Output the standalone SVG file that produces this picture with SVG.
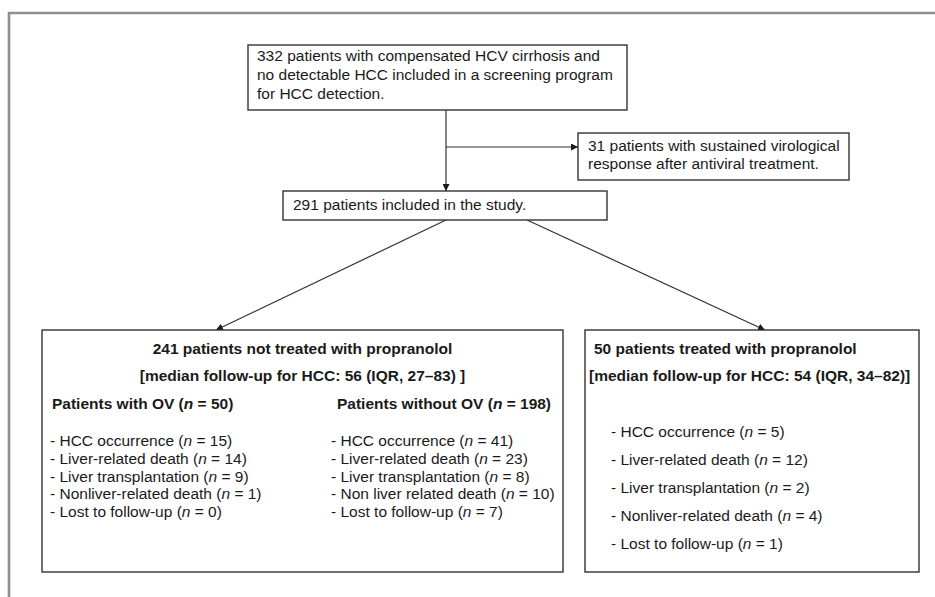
<svg xmlns="http://www.w3.org/2000/svg" width="935" height="597" viewBox="0 0 935 597">
<defs>
<marker id="ah" viewBox="0 0 10 10" refX="10" refY="5" markerWidth="7" markerHeight="7" markerUnits="userSpaceOnUse" orient="auto">
<path d="M0,0 L10,5 L0,10 z" fill="#1a1a1a"/>
</marker>
</defs>
<style>
text{font-family:"Liberation Sans",Arial,sans-serif;font-size:15.5px;fill:#1a1a1a}
.b{font-weight:bold}
.box{fill:#fff;stroke:#333;stroke-width:1.4}
.ln{fill:none;stroke:#333;stroke-width:1.2}
.i{font-style:italic}
</style>
<rect width="935" height="597" fill="#fff"/>
<path d="M9,597 V13 H935" fill="none" stroke="#8f8f8f" stroke-width="2.6"/>
<g id="connectors">
<line class="ln" x1="446" y1="110" x2="446" y2="191" marker-end="url(#ah)"/>
<line class="ln" x1="446" y1="147" x2="578" y2="147" marker-end="url(#ah)"/>
<line class="ln" x1="446" y1="220" x2="216" y2="330" marker-end="url(#ah)"/>
<line class="ln" x1="527" y1="220" x2="765" y2="330" marker-end="url(#ah)"/>
</g>
<g id="n332">
<rect class="box" x="248" y="45" width="379" height="65"/>
<text x="257" y="61">332 patients with compensated HCV cirrhosis and</text>
<text x="257" y="80">no detectable HCC included in a screening program</text>
<text x="257" y="99">for HCC detection.</text>
</g>
<g id="n31">
<rect class="box" x="578" y="133" width="271" height="47"/>
<text x="588" y="150.5">31 patients with sustained virological</text>
<text x="588" y="169">response after antiviral treatment.</text>
</g>
<g id="n291">
<rect class="box" x="283" y="191" width="324" height="29"/>
<text x="293" y="209.5">291 patients included in the study.</text>
</g>
<g id="n241">
<rect class="box" x="42" y="330" width="521" height="242"/>
<text class="b" x="302.5" y="354" text-anchor="middle">241 patients not treated with propranolol</text>
<text class="b" x="302.5" y="381" text-anchor="middle">[median follow-up for HCC: 56 (IQR, 27–83) ]</text>
<text class="b" x="52" y="409">Patients with OV (<tspan class="i">n</tspan> = 50)</text>
<text class="b" x="337" y="409">Patients without OV (<tspan class="i">n</tspan> = 198)</text>
<text x="50" y="446">- HCC occurrence (<tspan class="i">n</tspan> = 15)</text>
<text x="50" y="464">- Liver-related death (<tspan class="i">n</tspan> = 14)</text>
<text x="50" y="481.5">- Liver transplantation (<tspan class="i">n</tspan> = 9)</text>
<text x="50" y="499">- Nonliver-related death (<tspan class="i">n</tspan> = 1)</text>
<text x="50" y="516.5">- Lost to follow-up (<tspan class="i">n</tspan> = 0)</text>
<text x="331" y="446">- HCC occurrence (<tspan class="i">n</tspan> = 41)</text>
<text x="331" y="464">- Liver-related death (<tspan class="i">n</tspan> = 23)</text>
<text x="331" y="481.5">- Liver transplantation (<tspan class="i">n</tspan> = 8)</text>
<text x="331" y="499">- Non liver related death (<tspan class="i">n</tspan> = 10)</text>
<text x="331" y="516.5">- Lost to follow-up (<tspan class="i">n</tspan> = 7)</text>
</g>
<g id="n50">
<rect class="box" x="585" y="330" width="334" height="242"/>
<text class="b" x="594" y="354">50 patients treated with propranolol</text>
<text class="b" x="589" y="381">[median follow-up for HCC: 54 (IQR, 34–82)]</text>
<text x="611" y="437">- HCC occurrence (<tspan class="i">n</tspan> = 5)</text>
<text x="611" y="465">- Liver-related death (<tspan class="i">n</tspan> = 12)</text>
<text x="611" y="493">- Liver transplantation (<tspan class="i">n</tspan> = 2)</text>
<text x="611" y="521">- Nonliver-related death (<tspan class="i">n</tspan> = 4)</text>
<text x="611" y="549">- Lost to follow-up (<tspan class="i">n</tspan> = 1)</text>
</g>
</svg>
